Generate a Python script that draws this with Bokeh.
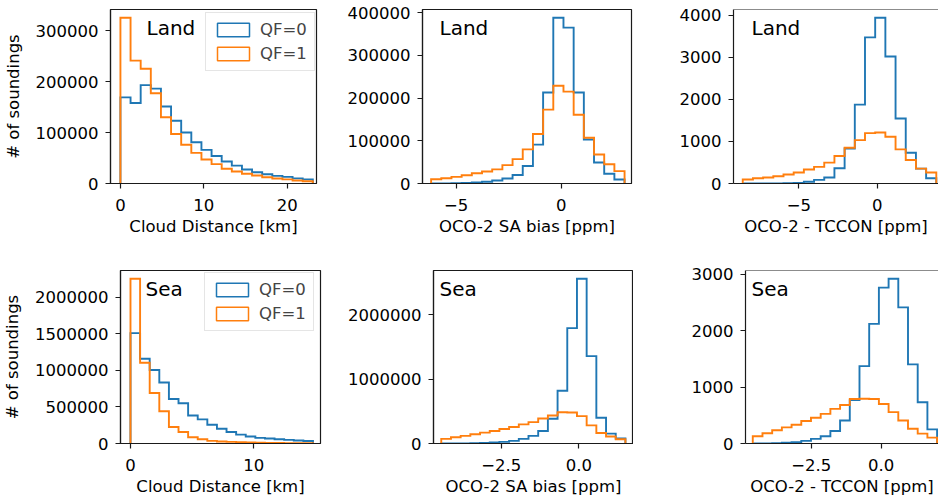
import numpy as np
from bokeh.plotting import figure
from bokeh.layouts import column, row
from bokeh.models import Range1d, FixedTicker, Legend, LegendItem, Label, Span
from bokeh.embed import file_html
from bokeh.resources import INLINE

# ---------------- data (19 equal-width bins per histogram) ----------------
land_cd_range = [0.0, 23.06]
land_cd_qf0 = [169000, 158000, 193000, 186000, 151000, 123000, 100000, 81000, 66000, 54000,
               43000, 35000, 27500, 22000, 18000, 15000, 13000, 10000, 8000]
land_cd_qf1 = [325000, 241000, 225000, 177000, 130000, 97000, 76000, 60000, 47000, 38000,
               29000, 23500, 19000, 15800, 12200, 9800, 8000, 6000, 4500]

land_sa_range = [-6.19, 3.02]
land_sa_qf0 = [200, 400, 800, 1500, 2300, 4000, 7000, 11600, 20000, 41000,
               91000, 213000, 388000, 365000, 213000, 103000, 49000, 23000, 9300]
land_sa_qf1 = [10000, 12400, 15500, 19400, 24000, 28000, 33000, 43000, 57000, 80000,
               116000, 173000, 229000, 215000, 161000, 107000, 68000, 45000, 29000]

land_tc_range = [-8.58, 3.77]
land_tc_qf0 = [0, 0, 0, 0, 5, 16, 40, 87, 142, 362,
               830, 1874, 3472, 3937, 3016, 1543, 732, 354, 126]
land_tc_qf1 = [95, 126, 142, 173, 213, 260, 331, 394, 496, 654,
               850, 1031, 1197, 1213, 1110, 811, 559, 354, 260]

sea_cd_range = [0.0, 14.8]
sea_cd_qf0 = [1512000, 1160000, 1007000, 835000, 609000, 551000, 384000, 330000, 257000, 203000,
              158000, 122000, 95000, 77000, 68000, 59000, 50000, 42000, 34000]
sea_cd_qf1 = [2257000, 1106000, 691000, 442000, 226000, 158000, 86000, 59000, 36000, 27000,
              22000, 18000, 13500, 11000, 9000, 7000, 5500, 4500, 3500]

sea_sa_range = [-4.43, 1.50]
sea_sa_qf0 = [500, 1000, 2000, 4000, 8000, 15000, 26000, 41000, 72000, 118000,
              195000, 385000, 821000, 1795000, 2564000, 1359000, 400000, 154000, 77000]
sea_sa_qf1 = [72000, 97000, 118000, 144000, 169000, 195000, 226000, 256000, 297000, 333000,
              390000, 436000, 487000, 482000, 426000, 282000, 164000, 108000, 67000]

sea_tc_range = [-4.59, 2.0]
sea_tc_qf0 = [0, 2, 5, 12, 23, 47, 82, 129, 222, 409,
              770, 1374, 2123, 2766, 2924, 2415, 1404, 731, 251]
sea_tc_qf1 = [129, 181, 234, 287, 333, 398, 456, 526, 614, 684,
              789, 795, 789, 702, 556, 409, 263, 175, 105]

series_labels = ["QF=0", "QF=1"]
panel_tags = ["Land", "Land", "Land", "Sea", "Sea", "Sea"]
x_labels = ["Cloud Distance [km]", "OCO-2 SA bias [ppm]", "OCO-2 - TCCON [ppm]"]
y_label = "# of soundings"

cd_land_xticks = [0, 10, 20]
cd_land_xtick_labels = ["0", "10", "20"]
bias_land_xticks = [-5, 0]
bias_land_xtick_labels = ["\u22125", "0"]
cd_sea_xticks = [0, 10]
cd_sea_xtick_labels = ["0", "10"]
bias_sea_xticks = [-2.5, 0]
bias_sea_xtick_labels = ["\u22122.5", "0.0"]

yt_land_cd = [0, 100000, 200000, 300000]
yt_land_cd_labels = ["0", "100000", "200000", "300000"]
yt_land_sa = [0, 100000, 200000, 300000, 400000]
yt_land_sa_labels = ["0", "100000", "200000", "300000", "400000"]
yt_land_tc = [0, 1000, 2000, 3000, 4000]
yt_land_tc_labels = ["0", "1000", "2000", "3000", "4000"]
yt_sea_cd = [0, 500000, 1000000, 1500000, 2000000]
yt_sea_cd_labels = ["0", "500000", "1000000", "1500000", "2000000"]
yt_sea_sa = [0, 1000000, 2000000]
yt_sea_sa_labels = ["0", "1000000", "2000000"]
yt_sea_tc = [0, 1000, 2000, 3000]
yt_sea_tc_labels = ["0", "1000", "2000", "3000"]

# ---------------- style ----------------
C0 = "#1f77b4"
C1 = "#ff7f0e"
FONT = "DejaVu Sans"
FS = "16.5px"
TAG_FS = "20px"
AX_COL = "#1a1a1a"


def step_xy(rng, counts):
    e = np.linspace(rng[0], rng[1], len(counts) + 1)
    xs, ys = [e[0]], [0]
    for i, c in enumerate(counts):
        xs += [e[i], e[i + 1]]
        ys += [c, c]
    xs.append(e[-1])
    ys.append(0)
    return xs, ys


def make_panel(width, height, borders, xr, rng, qf0, qf1, xticks, xtl, yticks, ytl,
               xlabel, tag, tag_xy, ylabel=None, legend_xy=None, open_right=False):
    l, r, t, b = borders
    ymax = max(max(qf0), max(qf1)) * 1.05
    p = figure(width=width, height=height, output_backend="svg", toolbar_location=None,
               x_range=Range1d(*xr), y_range=Range1d(0, ymax),
               min_border_left=l, min_border_right=r, min_border_top=t, min_border_bottom=b)
    p.xgrid.visible = False
    p.ygrid.visible = False
    p.background_fill_color = "white"
    p.border_fill_color = "white"
    if open_right:
        p.outline_line_color = None
        p.add_layout(Span(location=ymax, dimension="width", line_color=AX_COL, line_width=1.2))
    else:
        p.outline_line_color = AX_COL
        p.outline_line_width = 1.2
        p.outline_line_alpha = 1.0

    if legend_xy is not None:
        r0 = p.quad(left=[rng[0]], right=[rng[0]], top=[0], bottom=[0], fill_color=None,
                    line_color=C0, line_width=1.5)
        r1 = p.quad(left=[rng[0]], right=[rng[0]], top=[0], bottom=[0], fill_color=None,
                    line_color=C1, line_width=1.5)

    x0, y0 = step_xy(rng, qf0)
    x1, y1 = step_xy(rng, qf1)
    p.line(x0, y0, line_color=C0, line_width=1.9, line_join="miter")
    p.line(x1, y1, line_color=C1, line_width=1.9, line_join="miter")

    for ax in (p.xaxis[0], p.yaxis[0]):
        ax.axis_line_color = AX_COL
        ax.axis_line_width = 1.2
        ax.major_tick_line_color = AX_COL
        ax.major_tick_line_width = 1.2
        ax.major_tick_out = 5
        ax.major_tick_in = 0
        ax.minor_tick_line_color = None
        ax.major_label_text_font = FONT
        ax.major_label_text_font_size = FS
        ax.major_label_text_color = "black"
        ax.axis_label_text_font = FONT
        ax.axis_label_text_font_size = FS
        ax.axis_label_text_font_style = "normal"
        ax.axis_label_text_color = "black"

    p.xaxis.ticker = FixedTicker(ticks=xticks)
    p.xaxis.major_label_overrides = {k: v for k, v in zip(xticks, xtl)}
    p.xaxis.major_label_standoff = 10
    p.xaxis.axis_label = xlabel
    p.xaxis.axis_label_standoff = 3

    p.yaxis.ticker = FixedTicker(ticks=yticks)
    p.yaxis.major_label_overrides = {k: v for k, v in zip(yticks, ytl)}
    p.yaxis.major_label_standoff = 7
    if ylabel:
        p.yaxis.axis_label = ylabel
        p.yaxis.axis_label_standoff = 10

    p.add_layout(Label(x=tag_xy[0], y=tag_xy[1], x_units="screen", y_units="screen",
                       text=tag, text_font=FONT, text_font_size=TAG_FS,
                       text_baseline="alphabetic", text_align="left", text_color="black"))

    if legend_xy is not None:
        leg = Legend(items=[LegendItem(label=series_labels[0], renderers=[r0]),
                            LegendItem(label=series_labels[1], renderers=[r1])],
                     location=legend_xy, orientation="vertical",
                     glyph_width=40, glyph_height=17, label_height=19,
                     label_standoff=7, padding=7, spacing=5, margin=0,
                     label_text_font=FONT, label_text_font_size=FS,
                     border_line_color="#cccccc", border_line_width=1,
                     background_fill_color="white", background_fill_alpha=0.8)
        p.add_layout(leg)
    return p


H1, H2 = 258, 242
p1 = make_panel(322, H1, (109, 6, 7, 75), (-1.19, 23.5), land_cd_range, land_cd_qf0, land_cd_qf1,
                cd_land_xticks, cd_land_xtick_labels, yt_land_cd, yt_land_cd_labels,
                x_labels[0], panel_tags[0], (36, 156), ylabel=y_label, legend_xy=(95, 112))
p2 = make_panel(311, H1, (100, 2, 9, 75), (-6.6, 3.35), land_sa_range, land_sa_qf0, land_sa_qf1,
                bias_land_xticks, bias_land_xtick_labels, yt_land_sa, yt_land_sa_labels,
                x_labels[1], panel_tags[1], (17, 156))
p3 = make_panel(305, H1, (100, 0, 8, 75), (-9.17, 3.91), land_tc_range, land_tc_qf0, land_tc_qf1,
                bias_land_xticks, bias_land_xtick_labels, yt_land_tc, yt_land_tc_labels,
                x_labels[2], panel_tags[2], (18, 156), open_right=True)
p4 = make_panel(322, H2, (120, 2, 11, 57), (-0.81, 15.41), sea_cd_range, sea_cd_qf0, sea_cd_qf1,
                cd_sea_xticks, cd_sea_xtick_labels, yt_sea_cd, yt_sea_cd_labels,
                x_labels[0], panel_tags[3], (25, 155), ylabel=y_label, legend_xy=(84, 112))
p5 = make_panel(311, H2, (111, 0, 11, 57), (-4.68, 1.76), sea_sa_range, sea_sa_qf0, sea_sa_qf1,
                bias_sea_xticks, bias_sea_xtick_labels, yt_sea_sa, yt_sea_sa_labels,
                x_labels[1], panel_tags[4], (6, 155))
p6 = make_panel(305, H2, (112, 0, 12, 57), (-4.85, 2.05), sea_tc_range, sea_tc_qf0, sea_tc_qf1,
                bias_sea_xticks, bias_sea_xtick_labels, yt_sea_tc, yt_sea_tc_labels,
                x_labels[2], panel_tags[5], (6, 155), open_right=True)

layout = column(row(p1, p2, p3, spacing=0), row(p4, p5, p6, spacing=0), spacing=0)
open("out.html", "w").write(file_html(layout, INLINE))
